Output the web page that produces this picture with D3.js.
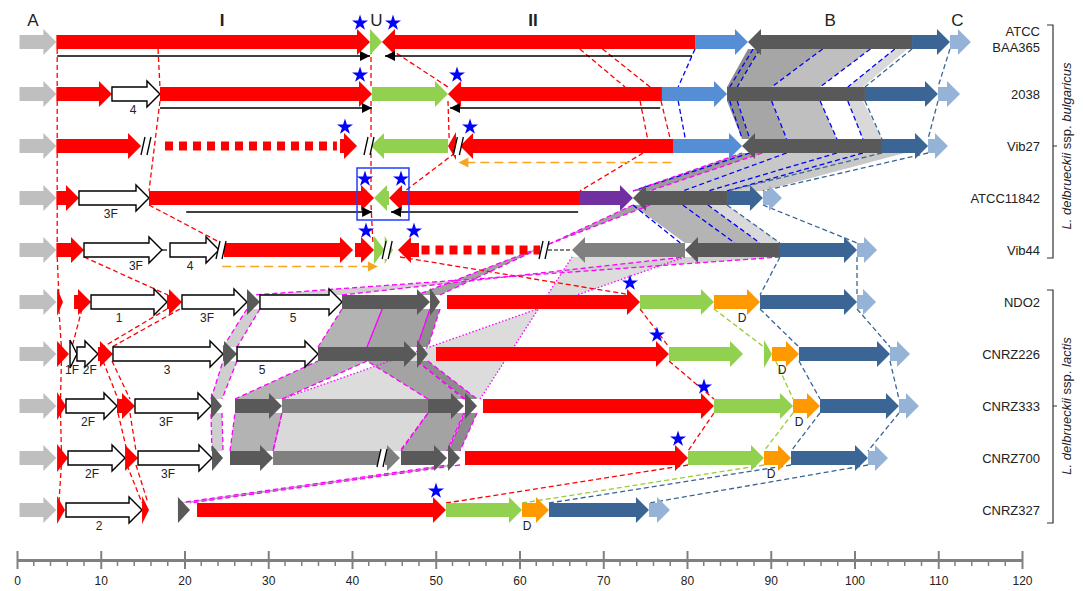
<!DOCTYPE html>
<html><head><meta charset="utf-8">
<script src="https://cdn.jsdelivr.net/npm/d3@7"></script>
<style>body{margin:0;background:#fff}svg{display:block}text{font-family:"Liberation Sans",Arial,sans-serif}</style>
</head><body><svg id="c" width="1083" height="591"></svg>
<script>
// ---------- DATA (kb) ----------
const strains = ['ATCC BAA365','2038','Vib27','ATCC11842','Vib44','NDO2','CNRZ226','CNRZ333','CNRZ700','CNRZ327'];
const regionLabels = [['A',1.9,false],['I',24.5,true],['U',42.9,false],['II',61.6,true],['B',97.1,false],['C',112.3,false]];
const axisTicks = d3.range(0,121,10);

// genes: [start, end, direction, type]
const genesBAA365 = [[0.3,4.7,1,'A'],[4.7,42.15,1,'red'],[42.15,43.58,1,'green'],[43.58,80.96,-1,'red'],[80.96,87.28,1,'lblue'],[87.28,106.87,-1,'dgray'],[106.87,111.4,1,'dblue'],[111.4,113.9,1,'C']];
const genes2038 = [[0.3,4.7,1,'A'],[4.7,11.34,1,'red'],[11.34,17.07,1,'white'],[17.07,42.39,1,'red'],[42.39,51.46,1,'green'],[51.46,77.01,-1,'red'],[77.01,84.78,1,'lblue'],[84.78,101.25,0,'dgray'],[101.25,109.97,1,'dblue'],[109.97,112.6,1,'C']];
const genesVib27 = [[0.3,4.7,1,'A'],[4.7,14.81,1,'red'],[38.57,40.6,1,'red'],[42.27,51.46,-1,'green'],[51.46,52.42,-1,'red'],[52.9,78.33,-1,'red'],[78.33,86.57,1,'lblue'],[86.57,103.28,-1,'dgray'],[103.28,108.78,1,'dblue'],[108.78,111.16,1,'C']];
const genes11842 = [[0.3,4.7,1,'A'],[4.7,7.4,1,'red'],[7.4,15.76,1,'white'],[15.76,42.63,1,'red'],[42.63,44.42,-1,'green'],[44.42,67.22,-1,'red'],[67.22,73.55,1,'purple'],[73.55,84.78,-1,'dgray'],[84.78,89.07,1,'dblue'],[89.07,91.34,1,'C']];
const genesVib44 = [[0.3,4.7,1,'A'],[4.7,8.0,1,'red'],[8.0,17.31,1,'white'],[18.27,24.12,1,'white'],[24.72,40.12,1,'red'],[40.36,42.63,1,'red'],[42.63,43.9,1,'green'],[43.9,44.9,1,'green'],[45.49,48.0,-1,'red'],[66.27,79.76,-1,'mgray'],[79.76,91.1,-1,'dgray'],[91.1,100.3,1,'dblue'],[100.3,102.69,1,'C']];
const genesNDO2 = [[0.3,4.7,1,'A'],[4.78,5.49,1,'red'],[6.81,8.84,1,'red'],[8.84,17.91,1,'white'],[17.91,19.7,1,'red'],[19.7,27.46,1,'white'],[27.46,29.01,1,'dgray'],[29.01,38.81,1,'white'],[38.81,49.31,1,'dgray'],[49.31,50.51,1,'dgray'],[51.34,74.39,1,'red'],[74.39,83.22,1,'green'],[83.22,88.72,1,'orange'],[88.72,100.3,1,'dblue'],[100.3,102.57,1,'C']];
const genesCNRZ226 = [[0.3,4.7,1,'A'],[4.78,6.21,1,'red'],[6.33,7.16,1,'white'],[7.16,9.67,1,'white'],[9.67,11.46,1,'red'],[11.46,24.6,1,'white'],[24.6,26.27,1,'dgray'],[26.27,35.94,1,'white'],[35.94,47.76,1,'dgray'],[47.76,49.07,1,'dgray'],[50.03,77.85,1,'red'],[77.85,86.69,1,'green'],[89.19,90.15,1,'green'],[90.15,93.37,1,'orange'],[93.37,104.24,1,'dblue'],[104.24,106.63,1,'C']];
const genesCNRZ333 = [[0.3,4.7,1,'A'],[4.78,5.85,1,'red'],[5.85,11.94,1,'white'],[11.94,14.09,1,'red'],[14.09,23.16,1,'white'],[23.16,24.48,1,'dgray'],[26.03,31.64,1,'dgray'],[31.64,49.07,0,'mgray'],[49.07,53.37,1,'dgray'],[53.49,54.93,1,'dgray'],[55.64,83.22,1,'red'],[83.22,92.66,1,'green'],[92.66,95.88,1,'orange'],[95.88,105.31,1,'dblue'],[105.31,107.7,1,'C']];
const genesCNRZ700 = [[0.3,4.7,1,'A'],[4.78,6.09,1,'red'],[6.09,12.9,1,'white'],[12.9,14.45,1,'red'],[14.45,23.28,1,'white'],[23.28,24.6,1,'dgray'],[25.43,30.57,1,'dgray'],[30.57,43.34,0,'mgray'],[43.94,45.73,1,'mgray'],[45.85,51.34,1,'dgray'],[51.46,52.9,1,'dgray'],[53.49,80.12,1,'red'],[80.12,89.19,1,'green'],[89.19,92.42,1,'orange'],[92.42,101.61,1,'dblue'],[101.61,104.0,1,'C']];
const genesCNRZ327 = [[0.3,4.7,1,'A'],[4.78,5.73,1,'red'],[5.85,14.93,1,'white'],[14.93,15.76,1,'red'],[19.22,20.66,1,'dgray'],[21.49,51.22,1,'red'],[51.22,60.3,1,'green'],[60.3,63.52,1,'orange'],[63.52,75.46,1,'dblue'],[75.46,77.97,1,'C']];
const rowGenes = [genesBAA365,genes2038,genesVib27,genes11842,genesVib44,genesNDO2,genesCNRZ226,genesCNRZ333,genesCNRZ700,genesCNRZ327];

// gene labels: [row, kb, text]
const geneLabels = [[1,13.85,'4'],[3,11.2,'3F'],[4,14.2,'3F'],[4,20.66,'4'],[5,12.18,'1'],[5,22.69,'3F'],[5,32.96,'5'],[5,86.57,'D'],
 [6,6.57,'1F'],[6,8.7,'2F'],[6,17.91,'3'],[6,29.25,'5'],[6,91.34,'D'],[7,8.48,'2F'],[7,17.79,'3F'],[7,93.37,'D'],
 [8,8.96,'2F'],[8,18.03,'3F'],[8,90.03,'D'],[9,9.79,'2'],[9,60.9,'D']];
const stars = [[0,40.96],[0,44.9],[1,40.96],[1,52.54],[2,39.16],[2,54.09],[3,41.55],[3,45.85],[4,41.67],[4,47.4],[5,73.19],[6,76.42],[7,82.03],[8,78.93],[9,50.03]];
const dottedSegs = [[2,17.67,38.2],[4,48.3,62.45]];
const breaks = [[2,15.4],[2,42.03],[2,52.7],[4,24.36],[4,44.2],[4,62.93],[8,43.58]];
const blackArrows = [[0,4.8,42.15,1],[0,43.94,80.6,-1],[1,17.07,42.39,1],[1,51.7,76.8,-1],[3,20.2,42.4,1],[3,44.66,67.0,-1]];
const orangeArrows = [[2,52.7,78.33,-1],[4,24.5,43.1,1]];
const thinTails = [[4,17.31,17.91]];
const blackDashed = [[4,63.4,66.03]];
const boxU = [3,40.6,46.8];

// links: [kbTop,rowTop,kbBottom,rowBottom]
const redLinks = [[4.8,0,4.8,1],[4.8,1,4.8,2],[4.8,2,4.8,3],[4.8,3,4.8,4],[4.8,4,5.0,5],[5.0,5,5.3,6],[5.3,6,5.2,7],[5.2,7,5.3,8],[5.3,8,5.0,9],
 [16.84,0,17.07,1],[17.07,1,15.76,3],[15.76,3,24.36,4],[8.0,4,18.03,5],[7.76,5,6.57,6],[17.91,5,10.27,6],[19.46,5,11.34,6],
 [10.27,6,12.06,7],[11.34,6,13.49,7],[12.06,7,13.13,8],[13.49,7,14.21,8],[13.13,8,14.93,9],[14.21,8,15.64,9],
 [42.27,0,42.27,1],[42.27,1,42.27,2],[42.27,2,42.27,3],[42.27,3,42.5,4],
 [44.54,0,51.46,1],[51.46,1,51.6,2],[52.3,2,46.33,3],[45.73,4,73.43,5],
 [74.39,5,77.85,6],[77.85,6,83.22,7],[83.22,7,80.12,8],[80.12,8,51.22,9],
 [67.2,0,72.6,1],[69.9,0,75.6,1],[74.4,1,75.3,2],[76.9,1,78.0,2],[74.75,2,67.22,3]];
const blueLinks = [[80.96,0,78.95,1],[87.9,0,85.1,1],[88.7,0,86.0,1],[96.2,0,90.1,1],[101.9,0,95.9,1],[104.8,0,99.2,1],
 [78.95,1,79.8,2],[85.1,1,86.6,2],[86.0,1,87.5,2],[90.1,1,91.9,2],[95.9,1,97.9,2],[99.2,1,101.0,2],
 [87.5,2,73.55,3],[91.9,2,79.5,3],[97.9,2,82.5,3],[101.0,2,84.78,3],
 [73.55,3,79.2,4],[79.5,3,85.7,4],[82.5,3,88.7,4]];
const darkBlueLinks = [[106.87,0,101.25,1],[111.4,0,109.97,1],[101.25,1,103.28,2],[109.97,1,108.78,2],
 [103.28,2,84.78,3],[108.78,2,89.07,3],[84.78,3,91.1,4],[89.07,3,100.3,4],[91.1,4,88.72,5],[100.3,4,100.3,5],
 [88.72,5,93.37,6],[100.3,5,104.24,6],[93.37,6,95.88,7],[104.24,6,105.31,7],[95.88,7,92.42,8],[105.31,7,101.61,8],
 [92.42,8,63.52,9],[101.61,8,75.46,9]];
const greenLinks = [[83.22,5,89.19,6],[90.6,6,92.66,7],[92.66,7,89.19,8],[89.19,8,60.3,9]];

// shaded synteny blocks: [rowTop,rowBottom,[a,b,X,Y],shade]
const plainBlocks = [[0,1,[87.28,88.7,86.0,84.78],'#8c8c8c'],[0,1,[88.7,96.2,90.1,86.0],'#a6a6a6'],[0,1,[96.2,101.9,95.9,90.1],'#bfbfbf'],[0,1,[104.8,106.3,101.0,99.2],'#d9d9d9'],
 [1,2,[84.78,86.0,87.5,86.57],'#8c8c8c'],[1,2,[86.0,90.1,91.9,87.5],'#a6a6a6'],[1,2,[90.1,95.9,97.9,91.9],'#bfbfbf'],[1,2,[99.2,101.0,103.28,101.0],'#d9d9d9'],
 [2,3,[88.0,106.0,89.0,75.5],'#c8c8c8'],[3,4,[73.55,82.5,88.7,79.76],'#b4b4b4'],[3,4,[82.5,84.78,91.1,88.7],'#d9d9d9']];
const magentaBlocks = [[4,7,[66.27,79.76,31.64,55.3],'#dcdcdc','dot'],
 [2,3,[86.57,89.0,75.5,73.55],'#9a9a9a','dash'],[3,5,[73.55,75.6,47.76,50.5],'#a0a0a0','dash'],[4,5,[79.76,91.1,28.2,38.81],'#d0d0d0','dash'],
 [5,6,[27.46,29.01,26.27,24.6],'#cfcfcf','dash'],[5,6,[38.81,43.6,41.8,35.94],'#b3b3b3','dash'],[5,6,[43.6,49.31,47.76,41.8],'#a3a3a3','dash'],[5,6,[49.31,50.51,49.07,47.76],'#8c8c8c','dash'],
 [6,7,[24.6,26.27,24.48,23.16],'#cfcfcf','dash'],[6,7,[35.94,41.8,31.64,26.03],'#b3b3b3','dash'],[6,7,[41.8,47.76,53.37,49.07],'#a3a3a3','dash'],[6,7,[47.76,49.07,54.93,53.49],'#8c8c8c','dash'],
 [7,8,[23.16,24.48,24.6,23.28],'#cfcfcf','dash'],[7,8,[26.03,31.64,30.57,25.43],'#b3b3b3','dash'],[7,8,[31.64,49.07,45.73,30.57],'#d9d9d9','dash'],[7,8,[49.07,53.37,51.34,45.85],'#a3a3a3','dash'],[7,8,[53.49,54.93,52.9,51.46],'#8c8c8c','dash'],
 [8,9,[51.46,52.9,20.66,19.22],'#b3b3b3','dash']];

// ---------- STYLE ----------
const colors = {A:'#bfbfbf',red:'#ff0000',green:'#92d050',lblue:'#558ed5',dgray:'#595959',mgray:'#808080',dblue:'#3a6595',C:'#95b3d7',purple:'#7030a0',orange:'#ff9900',white:'#ffffff'};

const svg = d3.select('#c');
svg.append('rect').attr('width',1083).attr('height',591).attr('fill','#fff');
const x = d3.scaleLinear().domain([0,120]).range([17,1022]);
const y = d3.scalePoint().domain(strains).range([42,510]);
const ry = i => y(strains[i]);

function arrowPath(x0,x1,dir,cy,h,H,L){
  const w = x1-x0;
  if(dir===0) return `M${x0},${cy-h}H${x1}V${cy+h}H${x0}Z`;
  const hl = Math.min(L,w);
  if(w<=L){
    return dir>0 ? `M${x0},${cy-H}L${x1},${cy}L${x0},${cy+H}Z` : `M${x1},${cy-H}L${x0},${cy}L${x1},${cy+H}Z`;
  }
  if(dir>0) return `M${x0},${cy-h}H${x1-hl}V${cy-H}L${x1},${cy}L${x1-hl},${cy+H}V${cy+h}H${x0}Z`;
  return `M${x1},${cy-h}H${x0+hl}V${cy-H}L${x0},${cy}L${x0+hl},${cy+H}V${cy+h}H${x1}Z`;
}

// blocks
const gBlocks = svg.append('g');
function blockPts(b){
  const yt = ry(b[0])+7, yb = ry(b[1])-7, p=b[2];
  return [[x(p[0]),yt],[x(p[1]),yt],[x(p[2]),yb],[x(p[3]),yb]];
}
plainBlocks.forEach(b=>{
  gBlocks.append('path').attr('d',d3.line()(blockPts(b))+'Z').attr('fill',b[3]).attr('stroke','none');
});
magentaBlocks.forEach(b=>{
  const pts = blockPts(b);
  gBlocks.append('path').attr('d',d3.line()(pts)+'Z').attr('fill',b[3]).attr('fill-rule','nonzero').attr('stroke','none');
});
// links
const gLinks = svg.append('g').attr('fill','none');
function drawLinks(list,color,dash,w){
  list.forEach(l=>{
    gLinks.append('line').attr('x1',x(l[0])).attr('y1',ry(l[1])+7).attr('x2',x(l[2])).attr('y2',ry(l[3])-7)
      .attr('stroke',color).attr('stroke-width',w||1.3).attr('stroke-dasharray',dash);
  });
}
drawLinks(redLinks,'#ff0000','5,3');
drawLinks(blueLinks,'#0000ff','5,3');
drawLinks(darkBlueLinks,'#3a6595','5,3');
drawLinks(greenLinks,'#99cc33','5,3');
// magenta edges
magentaBlocks.forEach(b=>{
  const pts = blockPts(b);
  [[pts[1],pts[2]],[pts[3],pts[0]]].forEach(e=>{
    gLinks.append('line').attr('x1',e[0][0]).attr('y1',e[0][1]).attr('x2',e[1][0]).attr('y2',e[1][1])
      .attr('stroke','#ff00ff').attr('stroke-width',1.3).attr('stroke-dasharray',b[4]==='dot'?'1.5,2':'5,3');
  });
});

// genes
const gGenes = svg.append('g');
rowGenes.forEach((genes,i)=>{
  const cy = ry(i);
  genes.forEach(g=>{
    const x0=x(g[0]), x1=x(g[1]);
    const small = (x1-x0) < 11;
    const H = small ? 14 : 13;
    gGenes.append('path').attr('d',arrowPath(x0,x1,g[2],cy,7,H,13))
      .attr('fill',colors[g[3]])
      .attr('stroke',g[3]==='white'?'#000':'none').attr('stroke-width',1.4).attr('stroke-linejoin','miter');
  });
});

// dotted red segments
dottedSegs.forEach(d=>{
  svg.append('line').attr('x1',x(d[1])).attr('x2',x(d[2])).attr('y1',ry(d[0])).attr('y2',ry(d[0]))
    .attr('stroke','#ff0000').attr('stroke-width',9).attr('stroke-dasharray','8,6');
});
thinTails.forEach(d=>{
  svg.append('line').attr('x1',x(d[1])).attr('x2',x(d[2])).attr('y1',ry(d[0])).attr('y2',ry(d[0])).attr('stroke','#000').attr('stroke-width',1.2);
});
blackDashed.forEach(d=>{
  svg.append('line').attr('x1',x(d[1])).attr('x2',x(d[2])).attr('y1',ry(d[0])).attr('y2',ry(d[0])).attr('stroke','#000').attr('stroke-width',1.2).attr('stroke-dasharray','4,2');
});
// breaks
breaks.forEach(b=>{
  const px=x(b[1]), cy=ry(b[0]);
  svg.append('path').attr('d',`M${px-5},${cy+9}L${px-1},${cy-9}L${px+5},${cy-9}L${px+1},${cy+9}Z`).attr('fill','#fff');
  svg.append('line').attr('x1',px-5).attr('y1',cy+9).attr('x2',px-1).attr('y2',cy-9).attr('stroke','#000').attr('stroke-width',1.3);
  svg.append('line').attr('x1',px+1).attr('y1',cy+9).attr('x2',px+5).attr('y2',cy-9).attr('stroke','#000').attr('stroke-width',1.3);
});
// black arrow lines
function headTri(px,cy,dir,color,s){
  return svg.append('path').attr('d',`M${px},${cy}L${px-dir*s},${cy-s*0.5}L${px-dir*s},${cy+s*0.5}Z`).attr('fill',color);
}
blackArrows.forEach(a=>{
  const cy=ry(a[0])+14;
  svg.append('line').attr('x1',x(a[1])).attr('x2',x(a[2])).attr('y1',cy).attr('y2',cy).attr('stroke','#000').attr('stroke-width',1.4);
  const tip = a[3]>0?x(a[2]):x(a[1]);
  headTri(tip,cy,a[3],'#000',10);
});
orangeArrows.forEach(a=>{
  const cy=ry(a[0])+16.5;
  const tip = a[3]>0?x(a[2]):x(a[1]);
  svg.append('line').attr('x1',x(a[1])+(a[3]<0?8:0)).attr('x2',x(a[2])-(a[3]>0?8:0)).attr('y1',cy).attr('y2',cy).attr('stroke','#f6a623').attr('stroke-width',1.5).attr('stroke-dasharray','9,5');
  headTri(tip,cy,a[3],'#f6a623',10);
});
// blue box
svg.append('rect').attr('x',x(boxU[1])).attr('y',ry(boxU[0])-30).attr('width',x(boxU[2])-x(boxU[1])).attr('height',52)
  .attr('fill','none').attr('stroke','#1f3fff').attr('stroke-width',1.5);
// stars
const star = d3.symbol(d3.symbolStar,80);
stars.forEach(s=>{
  svg.append('path').attr('d',star()).attr('transform',`translate(${x(s[1])},${ry(s[0])-19})`).attr('fill','#0000ff');
});
// gene labels
geneLabels.forEach(l=>{
  svg.append('text').attr('x',x(l[1])).attr('y',ry(l[0])+20).attr('text-anchor','middle').style('font-size','12px').attr('fill','#222').text(l[2]);
});
// region labels
regionLabels.forEach(r=>{
  svg.append('text').attr('x',x(r[1])).attr('y',26).attr('text-anchor','middle').style('font-size','17px')
    .style('font-weight',r[2]?'bold':'normal').attr('fill','#222').text(r[0]);
});
// strain labels
strains.forEach((s,i)=>{
  if(s==='ATCC BAA365'){
    svg.append('text').attr('x',1040).attr('y',ry(i)-6).attr('text-anchor','end').style('font-size','13px').attr('fill','#222').text('ATCC');
    svg.append('text').attr('x',1040).attr('y',ry(i)+10).attr('text-anchor','end').style('font-size','13px').attr('fill','#222').text('BAA365');
  } else {
    svg.append('text').attr('x',1040).attr('y',ry(i)+5).attr('text-anchor','end').style('font-size','13px').attr('fill','#222').text(s);
  }
});
// brackets
function bracket(y0,y1,ym,sub){
  svg.append('path').attr('d',`M1047,${y0}H1053V${y1}H1047M1053,${ym}H1057`).attr('fill','none').attr('stroke','#333').attr('stroke-width',1.2);
  const t = svg.append('text').attr('transform',`translate(1071,${ym}) rotate(-90)`).attr('text-anchor','middle').style('font-size','13px').attr('fill','#222');
  t.append('tspan').style('font-style','italic').text('L. delbrueckii');
  t.append('tspan').text(' ssp. ');
  t.append('tspan').style('font-style','italic').text(sub);
}
bracket(25,258,ry(2),'bulgaricus');
bracket(290,523,ry(7),'lactis');

// axis
const axisG = svg.append('g').attr('transform','translate(0,560)')
  .call(d3.axisBottom(x).tickValues(axisTicks).tickSize(9).tickSizeOuter(0).tickPadding(7).tickFormat(d3.format('d')));
axisG.select('.domain').attr('stroke','#808080').attr('stroke-width',3);
axisG.selectAll('.tick line').attr('stroke','#808080').attr('stroke-width',2).attr('y1',-9);
axisG.selectAll('.tick text').style('font-family','"Liberation Sans Narrow","Arial Narrow",sans-serif').style('font-size','12px').attr('fill','#222');
axisG.selectAll('.minor').data(d3.range(0,121,2).filter(v=>v%10!==0)).enter().append('line').attr('class','minor')
  .attr('x1',d=>x(d)).attr('x2',d=>x(d)).attr('y1',0).attr('y2',6).attr('stroke','#808080').attr('stroke-width',1.5);
</script></body></html>
